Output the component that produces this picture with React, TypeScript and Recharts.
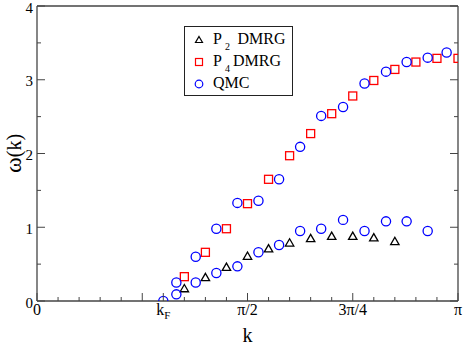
import React from "react";
import { ScatterChart, Scatter, XAxis, YAxis, Legend, Label } from "recharts";

// k is stored in units of pi, omega(k)
const p2K = [0.35, 0.4, 0.45, 0.5, 0.55, 0.6, 0.65, 0.7, 0.75, 0.8, 0.85];
const p2W = [0.17, 0.32, 0.46, 0.61, 0.71, 0.79, 0.85, 0.88, 0.88, 0.86, 0.81];

const p4K = [0.35, 0.4, 0.45, 0.5, 0.55, 0.6, 0.65, 0.7, 0.75, 0.8, 0.85, 0.9, 0.95, 1.0];
const p4W = [0.33, 0.66, 0.98, 1.32, 1.65, 1.97, 2.27, 2.54, 2.78, 2.99, 3.14, 3.24, 3.29, 3.29];

const qmcK = [
  0.3, 0.331, 0.331, 0.377, 0.377, 0.426, 0.426, 0.476, 0.476, 0.526, 0.526, 0.575, 0.575,
  0.625, 0.625, 0.675, 0.675, 0.727, 0.727, 0.778, 0.778, 0.829, 0.829, 0.878, 0.878, 0.928,
  0.928, 0.973,
];
const qmcW = [
  0.0, 0.09, 0.25, 0.25, 0.6, 0.38, 0.98, 0.47, 1.33, 0.66, 1.36, 0.76, 1.65, 0.95, 2.09, 0.98,
  2.51, 1.1, 2.63, 0.95, 2.95, 1.08, 3.11, 1.08, 3.24, 0.95, 3.3, 3.37,
];

const xMajorTicks = [0, 0.25, 0.3, 0.5, 0.75, 1];
const xTickLabels = ["0", "", "kF", "π/2", "3π/4", "π"];
const xMinorTicks = [0.05, 0.1, 0.15, 0.2, 0.35, 0.4, 0.45, 0.55, 0.6, 0.65, 0.7, 0.8, 0.85, 0.9, 0.95];
const yMajorTicks = [0, 1, 2, 3, 4];
const yMinorTicks = [0.5, 1.5, 2.5, 3.5];

const FONT = "Liberation Serif, Times New Roman, serif";
const FRAME = "#444";
const BLUE = "#0000ff";
const RED = "#ff0000";
const MAJOR = 8;
const MINOR = 4;

const toPoints = (ks: number[], ws: number[]) => ks.map((k, i) => ({ k, w: ws[i] }));
const p2Data = toPoints(p2K, p2W);
const p4Data = toPoints(p4K, p4W);
const qmcData = toPoints(qmcK, qmcW);

const allX = [...xMajorTicks, ...xMinorTicks].sort((a, b) => a - b);
const allY = [...yMajorTicks, ...yMinorTicks].sort((a, b) => a - b);

const TriangleShape = (p: any) => (
  <polygon
    points={`${p.cx},${p.cy - 4} ${p.cx + 4.2},${p.cy + 3.3} ${p.cx - 4.2},${p.cy + 3.3}`}
    fill="none"
    stroke="#000"
    strokeWidth={1.3}
  />
);
const SquareShape = (p: any) => (
  <rect x={p.cx - 4} y={p.cy - 4} width={8} height={8} fill="none" stroke={RED} strokeWidth={1.3} />
);
const CircleShape = (p: any) => (
  <circle cx={p.cx} cy={p.cy} r={4.6} fill="none" stroke={BLUE} strokeWidth={1.3} />
);

// ticks point into the plot on every side, majors longer than minors
const tickFor = (side: "bottom" | "top" | "left" | "right", majors: number[], labelled: boolean) => (p: any) => {
  const v = p.payload.value;
  const len = majors.includes(v) ? MAJOR : MINOR;
  const { x, y } = p;
  let line;
  if (side === "bottom") line = <line x1={x} x2={x} y1={y} y2={y - len} />;
  else if (side === "top") line = <line x1={x} x2={x} y1={y} y2={y + len} />;
  else if (side === "left") line = <line x1={x} x2={x + len} y1={y} y2={y} />;
  else line = <line x1={x} x2={x - len} y1={y} y2={y} />;
  let label = null;
  if (labelled && side === "bottom") {
    const t = xTickLabels[xMajorTicks.indexOf(v)];
    if (t === "kF") {
      label = (
        <text x={x} y={y + 3} dy="0.71em" textAnchor="middle" fontFamily={FONT} fontSize={16} fill="#000">
          <tspan>k</tspan>
          <tspan fontSize={11} dy={4}>F</tspan>
        </text>
      );
    } else if (t) {
      label = (
        <text x={x} y={y + 3} dy="0.71em" textAnchor="middle" fontFamily={FONT} fontSize={16} fill="#000">
          {t}
        </text>
      );
    }
  }
  if (labelled && side === "left" && yMajorTicks.includes(v)) {
    label = (
      <text x={x - 4} y={y} dy={6.5} textAnchor="end" fontFamily={FONT} fontSize={15} fill="#000">
        {v}
      </text>
    );
  }
  return (
    <g>
      <g stroke={FRAME} strokeWidth={1}>{line}</g>
      {label}
    </g>
  );
};

const LegendBox = () => (
  <svg width={109} height={70} style={{ display: "block" }}>
    <rect x={0.5} y={0.5} width={108} height={69} fill="#fff" stroke="#222" strokeWidth={1} />
    <polygon points="15,10.5 18.5,16.5 11.5,16.5" fill="none" stroke="#000" strokeWidth={1.2} />
    <rect x={11.5} y={32.5} width={7} height={7} fill="none" stroke={RED} strokeWidth={1.2} />
    <circle cx={15} cy={58} r={3.8} fill="none" stroke={BLUE} strokeWidth={1.2} />
    <g fontFamily={FONT} fontSize={16} fill="#000">
      <text x={29} y={17.5}>P</text>
      <text x={41} y={24} fontSize={10}>2</text>
      <text x={53.5} y={17.5}>DMRG</text>
      <text x={29} y={39.5}>P</text>
      <text x={41} y={46} fontSize={10}>4</text>
      <text x={49} y={39.5}>DMRG</text>
      <text x={29} y={61.5}>QMC</text>
    </g>
  </svg>
);

const axisCommon = {
  type: "number" as const,
  allowDataOverflow: true,
  interval: 0 as const,
  axisLine: { stroke: FRAME, strokeWidth: 1.3 },
  tickLine: false,
  tickSize: 0,
  tickMargin: 0,
};

export default function App() {
  return (
    <div style={{ position: "absolute", left: 0, top: 0, background: "#fff" }}>
      <ScatterChart width={463} height={345} margin={{ top: 5, right: 4, bottom: 43, left: 36 }}>
        <XAxis {...axisCommon} xAxisId="top" orientation="top" domain={[0, 1]} ticks={allX} height={1} tick={tickFor("top", xMajorTicks, false)} />
        <XAxis {...axisCommon} xAxisId="main" dataKey="k" domain={[0, 1]} ticks={allX} height={1} tick={tickFor("bottom", xMajorTicks, true)}>
          <Label value="k" position="bottom" offset={26} fontFamily={FONT} fontSize={20} fill="#000" />
        </XAxis>
        <YAxis {...axisCommon} yAxisId="right" orientation="right" domain={[0, 4]} ticks={allY} width={1} tick={tickFor("right", yMajorTicks, false)} />
        <YAxis {...axisCommon} yAxisId="main" dataKey="w" domain={[0, 4]} ticks={allY} width={1} tick={tickFor("left", yMajorTicks, true)}>
          <Label
            content={(lp: any) => {
              const vb = lp.viewBox;
              const cx = 21;
              const cy = vb.y + vb.height / 2;
              return (
                <text
                  x={cx}
                  y={cy}
                  transform={`rotate(-90 ${cx} ${cy})`}
                  textAnchor="middle"
                  fontFamily={FONT}
                  fontSize={20}
                  fill="#000"
                >
                  <tspan fontSize={24}>ω</tspan>
                  <tspan>(k)</tspan>
                </text>
              );
            }}
          />
        </YAxis>
        <Legend
          layout="vertical"
          align="center"
          verticalAlign="middle"
          content={<LegendBox />}
          wrapperStyle={{ left: 184, top: 26, width: 109, height: 70 }}
        />
        <Scatter name="P2 DMRG" data={p2Data} xAxisId="main" yAxisId="main" shape={TriangleShape} isAnimationActive={false} />
        <Scatter name="P4 DMRG" data={p4Data} xAxisId="main" yAxisId="main" shape={SquareShape} isAnimationActive={false} />
        <Scatter name="QMC" data={qmcData} xAxisId="main" yAxisId="main" shape={CircleShape} isAnimationActive={false} />
      </ScatterChart>
    </div>
  );
}
